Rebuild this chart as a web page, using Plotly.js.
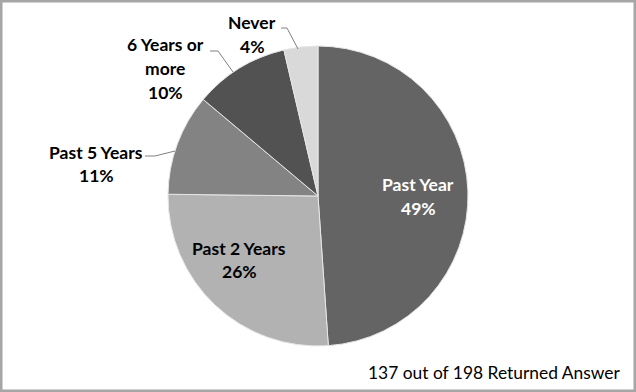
<!DOCTYPE html>
<html>
<head>
<meta charset="utf-8">
<script src="https://cdn.plot.ly/plotly-3.0.1.min.js"></script>
<style>html,body{margin:0;padding:0;background:#fff}#chart{width:636px;height:392px}</style>
</head>
<body>
<div id="chart"></div>
<script>
// Data (clockwise from 12 o'clock)
var categories = ["Past Year", "Past 2 Years", "Past 5 Years", "6 Years or more", "Never"];
var counts = [67, 36, 15, 14, 5];             // 137 respondents answered
var labelLines = [["Past Year"], ["Past 2 Years"], ["Past 5 Years"], ["6 Years or", "more"], ["Never"]];
var colors = ["#646464", "#b2b2b2", "#838383", "#525252", "#d9d9d9"];
var footnote = "137 out of 198 Returned Answer";

var W = 636, H = 392;
function px(x){ return x / W; }
function py(y){ return 1 - y / H; }

var total = counts.reduce(function(a,b){return a+b;}, 0);
var pct = counts.map(function(v){ return Math.round(v / total * 100) + "%"; });

var FONT = "Lato, 'Open Sans', sans-serif";
var LS = 23.5; // line spacing in px

// label anchor (centre of first line), text colour
var labelPos = [
  {x: 418, y: 185, color: "#ffffff"},
  {x: 239, y: 248, color: "#000000"},
  {x: 96,  y: 152, color: "#000000"},
  {x: 165, y: 45,  color: "#000000"},
  {x: 252, y: 23,  color: "#000000"}
];

var annotations = [];
categories.forEach(function(c, i){
  var lines = labelLines[i].concat([pct[i]]);
  lines.forEach(function(t, k){
    annotations.push({
      xref: "paper", yref: "paper",
      x: px(labelPos[i].x), y: py(labelPos[i].y + k * LS),
      xanchor: "center", yanchor: "middle",
      text: "<b>" + t + "</b>", showarrow: false,
      font: {family: FONT, size: 17.5, color: labelPos[i].color}
    });
  });
});
annotations.push({
  xref: "paper", yref: "paper", x: px(494), y: py(372),
  xanchor: "center", yanchor: "middle", showarrow: false,
  text: footnote, font: {family: FONT, size: 17.4, color: "#000000"}
});

// leader lines for outside labels
function leader(pts){
  var d = "M " + pts.map(function(p){ return px(p[0]) + " " + py(p[1]); }).join(" L ");
  return {type: "path", xref: "paper", yref: "paper", path: d, line: {color: "#808080", width: 1}};
}
var shapes = [
  leader([[145,156],[155,156],[175,151]]),
  leader([[210,51],[218,51],[233,72]]),
  leader([[281,28],[287,28],[298,49]]),
  {type: "rect", xref: "paper", yref: "paper", x0: 0, x1: 1, y0: 0, y1: 1,
   line: {color: "#a6a6a6", width: 5}}
];

var trace = {
  type: "pie",
  labels: categories,
  values: counts,
  sort: false,
  direction: "clockwise",
  rotation: 0,
  textinfo: "none",
  hoverinfo: "label+percent",
  marker: {colors: colors, line: {color: "#e6e6e6", width: 1}},
  domain: {x: [px(168), px(468)], y: [py(346), py(46)]},
  showlegend: false
};

var layout = {
  width: W, height: H,
  margin: {l: 0, r: 0, t: 0, b: 0},
  paper_bgcolor: "#ffffff",
  showlegend: false,
  annotations: annotations,
  shapes: shapes
};

Plotly.newPlot("chart", [trace], layout, {displayModeBar: false, staticPlot: true});
</script>
</body>
</html>
